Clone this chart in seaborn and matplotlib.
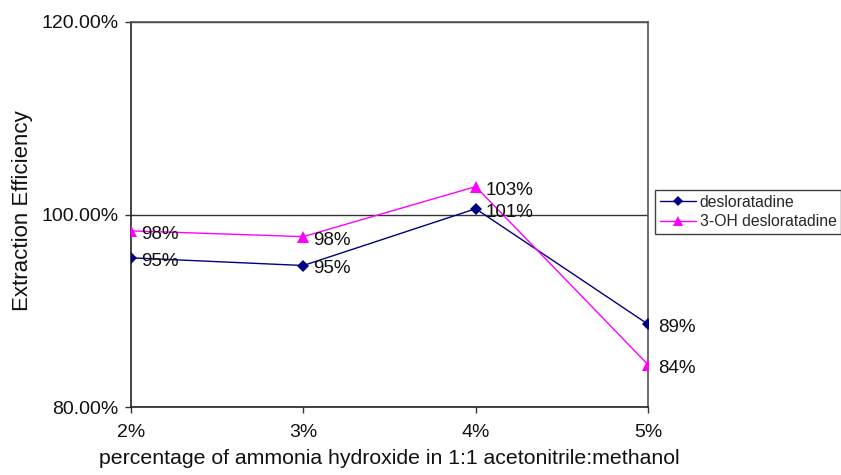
import matplotlib
matplotlib.use("Agg")
import matplotlib.pyplot as plt
import seaborn as sns
import pandas as pd
from matplotlib.lines import Line2D

categories = ["2%", "3%", "4%", "5%"]
desloratadine = [95.5, 94.7, 100.6, 88.6]
oh_desloratadine = [98.3, 97.7, 102.9, 84.4]
desl_labels = ["95%", "95%", "101%", "89%"]
oh_labels = ["98%", "98%", "103%", "84%"]
series_names = ["desloratadine", "3-OH desloratadine"]
yticks = [80, 100, 120]
ytick_labels = ["80.00%", "100.00%", "120.00%"]

sns.set_theme(style="white")
plt.rcParams["font.family"] = ["Liberation Sans", "DejaVu Sans"]

df = pd.DataFrame({
    "pos": list(range(len(categories))) * 2,
    "value": desloratadine + oh_desloratadine,
    "series": [series_names[0]] * 4 + [series_names[1]] * 4,
})

fig = plt.figure(figsize=(8.41, 4.75), dpi=100)
ax = fig.add_axes([131/841, 1-407/475, (648-131)/841, (407-22)/475])

colors = {series_names[0]: "#000080", series_names[1]: "#FF00FF"}
markers = {series_names[0]: "D", series_names[1]: "^"}
sizes = {series_names[0]: 6, series_names[1]: 8}

for name in series_names:
    sub = df[df["series"] == name]
    sns.lineplot(data=sub, x="pos", y="value", ax=ax, color=colors[name],
                 marker=markers[name], markersize=sizes[name], markeredgewidth=0,
                 linewidth=1.0, legend=False, zorder=3)

for i, (v, lab) in enumerate(zip(desloratadine, desl_labels)):
    ax.annotate(lab, (i, v), xytext=(7, -2.5), textcoords="offset points",
                ha="left", va="center", fontsize=13.5, color="#111111", zorder=4)
for i, (v, lab) in enumerate(zip(oh_desloratadine, oh_labels)):
    ax.annotate(lab, (i, v), xytext=(7, -2.5), textcoords="offset points",
                ha="left", va="center", fontsize=13.5, color="#111111", zorder=4)

ax.set_xlim(0, len(categories) - 1)
ax.set_ylim(80, 120)
ax.set_xticks(range(len(categories)))
ax.set_xticklabels(categories, fontsize=14)
ax.set_yticks(yticks)
ax.set_yticklabels(ytick_labels, fontsize=14)
ax.yaxis.grid(True, color="#333333", linewidth=1)
ax.xaxis.grid(False)
ax.tick_params(axis="both", direction="out", length=4, width=1, color="#333333",
               bottom=True, left=True, labelcolor="#111111")
ax.tick_params(axis="y", pad=5)
ax.tick_params(axis="x", pad=8)
for s in ax.spines.values():
    s.set_color("#555555")
    s.set_linewidth(1.2)
ax.spines["left"].set_color("#222222")
ax.spines["bottom"].set_color("#222222")

ax.set_xlabel("percentage of ammonia hydroxide in 1:1 acetonitrile:methanol",
              fontsize=15.3, color="#111111", labelpad=6)
ax.set_ylabel("Extraction Efficiency", fontsize=16, color="#111111", labelpad=6)
ax.yaxis.set_label_coords(-0.19, 0.51)

handles = [Line2D([0], [0], color=colors[n], marker=markers[n],
                  markersize=sizes[n] - 1, markeredgewidth=0, linewidth=1.0)
           for n in series_names]
leg = fig.legend(handles, series_names, loc="upper left",
                 bbox_to_anchor=(655/841, 1-190/475), bbox_transform=fig.transFigure,
                 fontsize=11.3, frameon=True, fancybox=False, borderpad=0.3,
                 handlelength=2.3, handletextpad=0.25, labelspacing=0.3,
                 borderaxespad=0)
leg.get_frame().set_edgecolor("#111111")
leg.get_frame().set_linewidth(1)

fig.savefig("out.png", dpi=100)
